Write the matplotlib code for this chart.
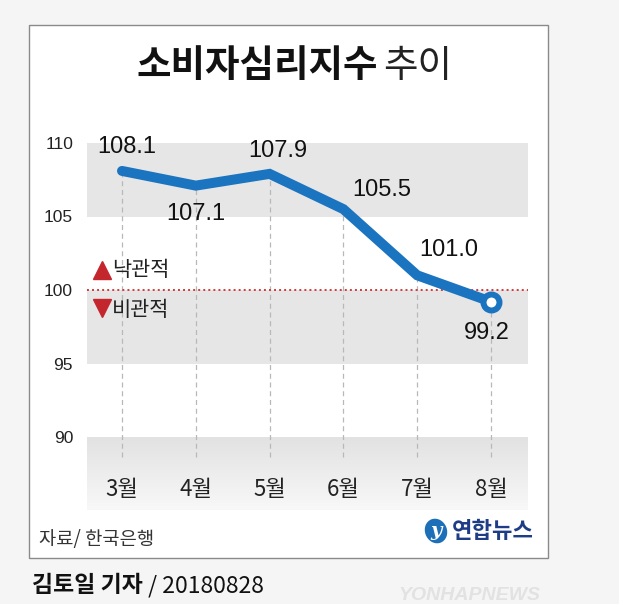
import matplotlib
matplotlib.use("Agg")
import matplotlib.pyplot as plt
from matplotlib.patches import Rectangle, Ellipse
from matplotlib.lines import Line2D
import numpy as np

# ---- data ----
months = ["3월", "4월", "5월", "6월", "7월", "8월"]
values = [108.1, 107.1, 107.9, 105.5, 101.0, 99.2]
value_labels = ["108.1", "107.1", "107.9", "105.5", "101.0", "99.2"]
yticks = [90, 95, 100, 105, 110]
title_bold = "소비자심리지수"
title_light = "추이"
source = "자료/ 한국은행"
byline_bold = "김토일 기자"
byline_rest = " / 20180828"

# label offsets in pixels (dx, dy)
label_offsets = [(5, 24), (0, -28), (8, 23), (38, 19), (32, 25), (-4, -31)]

W, H = 619, 604
fig = plt.figure(figsize=(W / 100, H / 100), dpi=100)
fig.patch.set_facecolor("#f6f5f5")

KR = ["Noto Sans CJK KR", "DejaVu Sans"]
NUM = ["Liberation Sans", "DejaVu Sans"]

def fx(px):
    return px / W

def fy(py):
    return 1 - py / H

# white box
box = Rectangle((fx(29), fy(558)), fx(548) - fx(29), fy(25) - fy(558),
                transform=fig.transFigure, facecolor="white",
                edgecolor="#8a8a8a", linewidth=1.0, zorder=-10)
fig.patches.append(box)

# title
fig.text(fx(378), fy(66), title_bold, ha="right", va="center",
         fontsize=27, fontweight="bold", family=KR, color="#111111")
fig.text(fx(383), fy(66), title_light, ha="left", va="center",
         fontsize=27, fontweight="light", family=KR, color="#222222")

# axes
ax_left, ax_right, ax_top, ax_bot = 87, 528, 143, 510
ax = fig.add_axes([fx(ax_left), fy(ax_bot), fx(ax_right) - fx(ax_left),
                   fy(ax_top) - fy(ax_bot)], zorder=1)
ax.set_facecolor("white")
ppu = (437 - 143) / 20.0
ymin = 90 - (ax_bot - 437) / ppu
x = np.arange(len(months))
sp = (491 - 122) / 5.0
xmin = -(122 - ax_left) / sp
xmax = 5 + (ax_right - 491) / sp

band = "#e6e6e7"
ax.axhspan(105, 110, color=band, zorder=0, lw=0)
ax.axhspan(95, 100, color=band, zorder=0, lw=0)
# gradient band at bottom
grad = np.linspace(0, 1, 100).reshape(-1, 1)
cmap = matplotlib.colors.LinearSegmentedColormap.from_list(
    "g", ["#e2e2e3", "#f8f8f8"])
ax.imshow(grad, cmap=cmap, aspect="auto",
          extent=(xmin, xmax, ymin, 90), origin="upper", zorder=0)
ax.set_xlim(xmin, xmax)
ax.set_ylim(ymin, 110)
for s in ax.spines.values():
    s.set_visible(False)

# y ticks
ax.set_yticks(yticks)
ax.set_yticklabels([str(t) for t in yticks], family=NUM, fontsize=12.5,
                   color="#222222")
ax.tick_params(axis="y", length=0, pad=10)
ax.set_xticks([])

# dashed verticals
y_dash_end = 90 - (457 - 437) / ppu
for xi, v in zip(x, values):
    ax.plot([xi, xi], [y_dash_end, v], color="#b8b8b8", lw=0.9,
            ls=(0, (4, 3)), zorder=1)

# reference line at 100
ax.axhline(100, color="#d23a3a", lw=1.4, ls=(0, (1, 1.6)), zorder=2)

# main line
blue = "#1b74bf"
ax.plot(x, values, color=blue, lw=7.2, solid_capstyle="round",
        solid_joinstyle="miter", zorder=3)
ax.plot(x[-1], values[-1], "o", ms=11.5, mfc="white", mec=blue,
        mew=4.3, zorder=4)

# value labels
for xi, v, lab, (dx, dy) in zip(x, values, value_labels, label_offsets):
    ax.annotate(lab, (xi, v), xytext=(dx, dy), textcoords="offset pixels",
                ha="center", va="center", fontsize=17, family=NUM,
                color="#111111", zorder=5, annotation_clip=False)

# month labels
y_month = 90 - (489 - 437) / ppu
for xi, m in zip(x, months):
    ax.text(xi, y_month, m, ha="center", va="center", fontsize=16,
            family=KR, color="#222222")

# optimistic / pessimistic
red = "#c4262e"
fig.add_artist(Line2D([fx(102)], [fy(270)], marker="^", ms=13, color=red,
                      lw=0, transform=fig.transFigure, zorder=5))
fig.add_artist(Line2D([fx(102)], [fy(308)], marker="v", ms=13, color=red,
                      lw=0, transform=fig.transFigure, zorder=5))
fig.text(fx(112), fy(270), "낙관적", ha="left", va="center", fontsize=15,
         family=KR, color="#222222", zorder=5)
fig.text(fx(112), fy(310), "비관적", ha="left", va="center", fontsize=15,
         family=KR, color="#222222", zorder=5)

# source
fig.text(fx(39), fy(540), source, ha="left", va="center", fontsize=13.5,
         family=KR, style="italic", color="#333333")

# Yonhap logo
logo = Ellipse((fx(436), fy(531)), fx(22), fy(0) - fy(25), angle=20,
               transform=fig.transFigure, facecolor="#1d6fb8",
               edgecolor="none", zorder=2)
fig.patches.append(logo)
fig.text(fx(436), fy(531), "y", ha="center", va="center", fontsize=14,
         family=["DejaVu Serif"], style="italic", fontweight="bold",
         color="white", zorder=3)
fig.text(fx(452), fy(532), "연합뉴스", ha="left", va="center", fontsize=16,
         family=KR, fontweight="bold", color="#1f3d86")

# byline
t1 = fig.text(fx(32), fy(586), byline_bold, ha="left", va="center",
              fontsize=16.5, family=KR, fontweight="bold", color="#111111")
fig.canvas.draw()
bb = t1.get_window_extent()
fig.text(bb.x1 / W, fy(586), byline_rest, ha="left", va="center",
         fontsize=16.5, family=KR, color="#111111")

# faint watermark
fig.text(fx(398), fy(595), "YONHAPNEWS", ha="left", va="center",
         fontsize=14, family=NUM, style="italic", fontweight="bold",
         color="#e2e2e2")

fig.savefig("out.png", dpi=100, facecolor=fig.get_facecolor())
